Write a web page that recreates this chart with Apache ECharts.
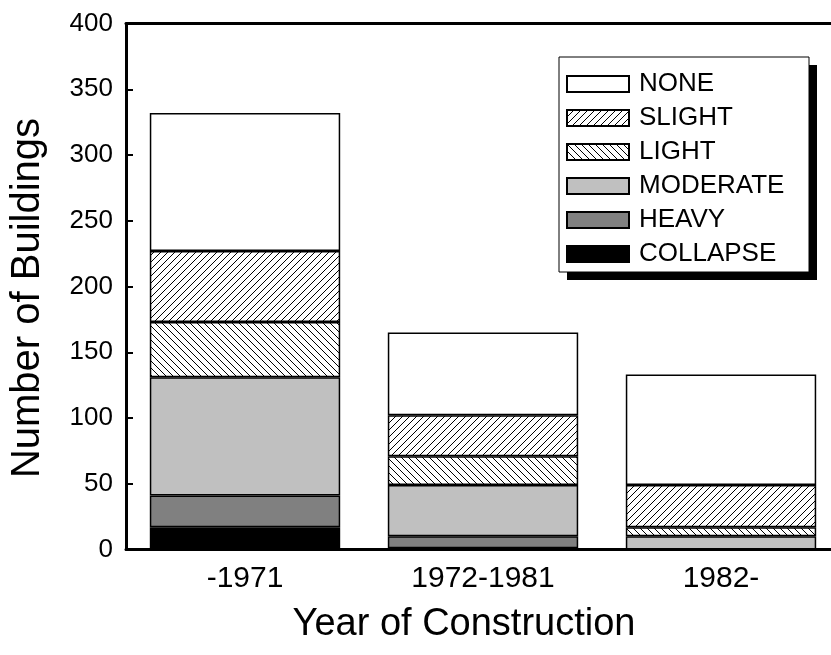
<!DOCTYPE html>
<html>
<head>
<meta charset="utf-8">
<script src="https://cdn.jsdelivr.net/npm/echarts@6/dist/echarts.min.js"></script>
<style>
html,body{margin:0;padding:0;background:#fff;overflow:hidden;}
#main{width:840px;height:655px;}
</style>
</head>
<body>
<div id="main"></div>
<script>
// ---- data ----
var categories = ['-1971', '1972-1981', '1982-'];
var collapse = [17, 1, 0];
var heavy = [24, 9, 0];
var moderate = [90, 39, 10];
var light = [42, 22, 7];
var slight = [54, 31, 32];
var none = [105, 63, 84];
var yTicks = { min: 0, max: 400, step: 50 };
var legendOrder = ['NONE', 'SLIGHT', 'LIGHT', 'MODERATE', 'HEAVY', 'COLLAPSE'];

function hatch(dir) {
  var s = 7;
  var c = document.createElement('canvas');
  c.width = s; c.height = s;
  var g = c.getContext('2d');
  g.fillStyle = '#fff';
  g.fillRect(0, 0, s, s);
  g.strokeStyle = '#000';
  g.lineWidth = 1;
  g.beginPath();
  for (var k = -s; k <= s; k += s) {
    if (dir === '/') { g.moveTo(k, s); g.lineTo(k + s, 0); }
    else { g.moveTo(k, 0); g.lineTo(k + s, s); }
  }
  g.stroke();
  return { image: c, repeat: 'repeat' };
}

var FONT = "'Liberation Sans', Arial, sans-serif";
var chart = echarts.init(document.getElementById('main'));

function mk(name, data, color) {
  return {
    name: name, type: 'bar', stack: 'all', data: data,
    xAxisIndex: 0, yAxisIndex: 0,
    barCategoryGap: '20%',
    itemStyle: { color: color, borderColor: '#000', borderWidth: 1.5 },
    emphasis: { disabled: true }
  };
}

var series = [
  mk('COLLAPSE', collapse, '#000000'),
  mk('HEAVY', heavy, '#808080'),
  mk('MODERATE', moderate, '#c0c0c0'),
  mk('LIGHT', light, hatch('\\')),
  mk('SLIGHT', slight, hatch('/')),
  mk('NONE', none, '#ffffff')
];

chart.setOption({
  animation: false,
  backgroundColor: '#fff',
  textStyle: { fontFamily: FONT },
  grid: { left: 124, top: 23.5, right: 0, height: 526, containLabel: false },
  graphic: [
    { type: 'rect', z: 5, shape: { x: 567, y: 65, width: 250, height: 215 }, style: { fill: '#000' } },
    { type: 'rect', z: 6, shape: { x: 559, y: 57, width: 250, height: 215 }, style: { fill: '#fff', stroke: '#000', lineWidth: 1 } }
  ],
  legend: {
    z: 20,
    orient: 'vertical',
    left: 566, top: 71,
    padding: 0,
    icon: 'rect',
    itemWidth: 62, itemHeight: 16, itemGap: 8,
    data: legendOrder,
    selectedMode: false,
    textStyle: { fontFamily: FONT, fontSize: 26, color: '#000', padding: [0, 0, 0, 5] }
  },
  xAxis: [
    {
      type: 'category', position: 'bottom', data: categories,
      name: 'Year of Construction', nameLocation: 'middle', nameGap: 56,
      nameTextStyle: { fontFamily: FONT, fontSize: 38, color: '#000', padding: [0, 38, 0, 0] },
      axisLine: { lineStyle: { color: '#000', width: 3 } },
      axisTick: { inside: true, length: 6, lineStyle: { color: '#000', width: 2 } },
      axisLabel: { fontFamily: FONT, fontSize: 30, color: '#000', margin: 14 }
    },
    {
      type: 'category', position: 'bottom', data: categories,
      axisLine: { show: false },
      axisTick: { alignWithLabel: true, inside: false, length: 4, lineStyle: { color: '#000', width: 2 } },
      axisLabel: { show: false }
    },
    {
      type: 'category', position: 'top', data: categories,
      axisLine: { lineStyle: { color: '#000', width: 3 } },
      axisTick: { inside: true, length: 6, lineStyle: { color: '#000', width: 2 } },
      axisLabel: { show: false }
    }
  ],
  yAxis: [
    {
      type: 'value', position: 'left', min: yTicks.min, max: yTicks.max, interval: yTicks.step,
      name: 'Number of Buildings', nameLocation: 'middle', nameGap: 78, nameRotate: 90,
      nameTextStyle: { fontFamily: FONT, fontSize: 40, color: '#000', padding: [0, 23, 0, 0] },
      axisLine: { show: true, lineStyle: { color: '#000', width: 3 } },
      axisTick: { show: true, inside: true, length: 7, lineStyle: { color: '#000', width: 2 } },
      axisLabel: { fontFamily: FONT, fontSize: 26, color: '#000', margin: 13 },
      splitLine: { show: false }
    },
    {
      type: 'value', position: 'right', min: yTicks.min, max: yTicks.max, interval: yTicks.step,
      axisLine: { show: true, lineStyle: { color: '#000', width: 3 } },
      axisTick: { show: true, inside: true, length: 7, lineStyle: { color: '#000', width: 2 } },
      axisLabel: { show: false },
      splitLine: { show: false }
    }
  ],
  series: series
});
</script>
</body>
</html>
